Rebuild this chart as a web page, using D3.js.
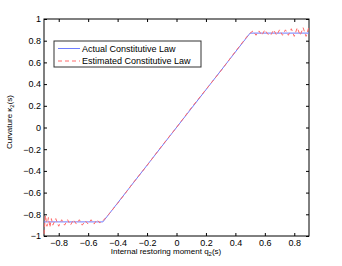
<!DOCTYPE html>
<html>
<head>
<meta charset="utf-8">
<script src="https://cdn.jsdelivr.net/npm/d3@7"></script>
<style>
  body { margin: 0; background: #fff; }
  svg { display: block; font-family: "Liberation Sans", Arial, sans-serif; }
</style>
</head>
<body>
<div id="chart"></div>
<script>
// actual law: breakpoints
const actualX = [-0.9, -0.5, 0.5, 0.9];
const actualY = [-0.87, -0.87, 0.87, 0.87];

// estimated law
const estX = [-0.90, -0.89, -0.88, -0.87, -0.86, -0.85, -0.84, -0.82, -0.80, -0.78, -0.76, -0.74,
  -0.72, -0.70, -0.68, -0.66, -0.64, -0.62, -0.60, -0.58, -0.56, -0.54, -0.52, -0.50,
  -0.46, -0.40, -0.30, -0.20, -0.10, 0.00, 0.10, 0.20, 0.30, 0.40, 0.48, 0.50,
  0.52, 0.54, 0.56, 0.58, 0.60, 0.62, 0.64, 0.66, 0.68, 0.70, 0.72, 0.74, 0.76, 0.78,
  0.80, 0.82, 0.84, 0.86, 0.88, 0.90];
const estY = [-0.98, -0.81, -0.91, -0.83, -0.92, -0.84, -0.90, -0.84, -0.91, -0.85, -0.90, -0.85,
  -0.90, -0.85, -0.89, -0.85, -0.90, -0.86, -0.89, -0.85, -0.89, -0.85, -0.88, -0.86,
  -0.80, -0.70, -0.52, -0.35, -0.17, 0.00, 0.18, 0.35, 0.52, 0.70, 0.84, 0.87,
  0.89, 0.85, 0.89, 0.85, 0.90, 0.86, 0.85, 0.90, 0.85, 0.90, 0.85, 0.90, 0.85, 0.91,
  0.84, 0.92, 0.85, 0.92, 0.84, 0.93];

const xTicks = [-0.8, -0.6, -0.4, -0.2, 0, 0.2, 0.4, 0.6, 0.8];
const yTicks = [-1, -0.8, -0.6, -0.4, -0.2, 0, 0.2, 0.4, 0.6, 0.8, 1];

const legendLabels = ['Actual Constitutive Law', 'Estimated Constitutive Law'];
const blue = '#6e7dff';
const red = '#ff6a6a';

const W = 342, H = 266;
const margin = { top: 19, right: 33, bottom: 30, left: 44 };
const width = W - margin.left - margin.right;
const height = H - margin.top - margin.bottom;

const svg = d3.select('#chart').append('svg')
  .attr('width', W)
  .attr('height', H);

const g = svg.append('g')
  .attr('transform', `translate(${margin.left},${margin.top})`);

const x = d3.scaleLinear().domain([-0.9, 0.9]).range([0, width]);
const y = d3.scaleLinear().domain([-1, 1]).range([height, 0]);

const fmt = d => (d < 0 ? '\u2212' : '') + d3.format('')(Math.abs(d));

function styleAxis(sel, showText) {
  sel.select('.domain').remove();
  sel.selectAll('line').attr('stroke', '#000');
  sel.selectAll('text')
    .style('font-size', '9px')
    .attr('fill', '#000');
  if (!showText) sel.selectAll('text').remove();
}

g.append('g')
  .attr('transform', `translate(0,${height})`)
  .call(d3.axisBottom(x).tickValues(xTicks).tickSize(-3).tickPadding(4).tickFormat(fmt))
  .call(s => styleAxis(s, true));
g.append('g')
  .call(d3.axisTop(x).tickValues(xTicks).tickSize(-3))
  .call(s => styleAxis(s, false));
g.append('g')
  .call(d3.axisLeft(y).tickValues(yTicks).tickSize(-3).tickPadding(3).tickFormat(fmt))
  .call(s => styleAxis(s, true));
g.append('g')
  .attr('transform', `translate(${width},0)`)
  .call(d3.axisRight(y).tickValues(yTicks).tickSize(-3))
  .call(s => styleAxis(s, false));

g.append('rect')
  .attr('width', width)
  .attr('height', height)
  .attr('fill', 'none')
  .attr('stroke', '#000')
  .attr('stroke-width', 1);

const line = d3.line()
  .x(d => x(d[0]))
  .y(d => y(d[1]));

g.append('path')
  .datum(d3.zip(actualX, actualY))
  .attr('d', line)
  .attr('fill', 'none')
  .attr('stroke', blue)
  .attr('stroke-width', 1);

g.append('path')
  .datum(d3.zip(estX, estY))
  .attr('d', line)
  .attr('fill', 'none')
  .attr('stroke', red)
  .attr('stroke-width', 1)
  .attr('stroke-dasharray', '4,3');

// legend
const legend = svg.append('g').attr('transform', 'translate(54,41)');
legend.append('rect')
  .attr('width', 147)
  .attr('height', 26)
  .attr('fill', '#fff')
  .attr('stroke', '#333');
legendLabels.forEach((label, i) => {
  const ly = 7.5 + i * 12.5;
  legend.append('line')
    .attr('x1', 4).attr('x2', 26)
    .attr('y1', ly).attr('y2', ly)
    .attr('stroke', i === 0 ? blue : red)
    .attr('stroke-dasharray', i === 0 ? null : '4,3');
  legend.append('text')
    .attr('x', 28)
    .attr('y', ly + 3)
    .style('font-size', '9px')
    .text(label);
});

// axis labels
const xl = svg.append('text')
  .attr('x', 166)
  .attr('y', 254)
  .attr('text-anchor', 'middle')
  .style('font-size', '8px');
xl.append('tspan').text('Internal restoring moment q');
xl.append('tspan').attr('dy', 2).style('font-size', '6px').text('2');
xl.append('tspan').attr('dy', -2).text('(s)');

const yl = svg.append('text')
  .attr('transform', 'translate(12,122) rotate(-90)')
  .attr('text-anchor', 'middle')
  .style('font-size', '8px');
yl.append('tspan').text('Curvature  \u03ba');
yl.append('tspan').attr('dy', 2).style('font-size', '6px').text('2');
yl.append('tspan').attr('dy', -2).text('(s)');
</script>
</body>
</html>
